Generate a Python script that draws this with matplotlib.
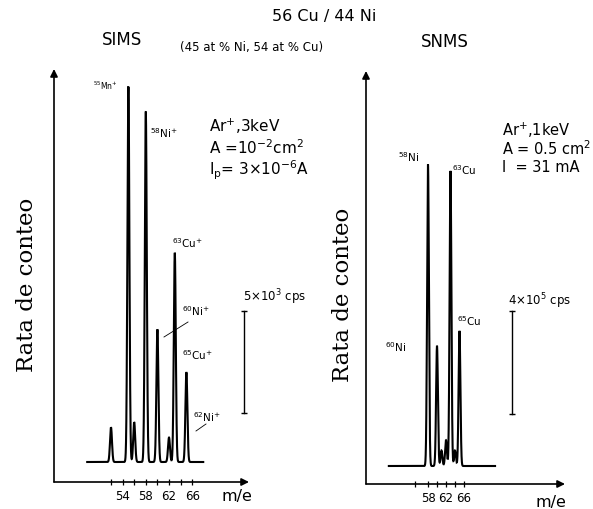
import matplotlib
matplotlib.use('Agg')
import matplotlib.pyplot as plt
import numpy as np

W, H = 593, 510

# ---- SIMS (left panel): mass numbers and peak heights (10^3 cps)
sims_mass = [52, 55, 56, 58, 60, 62, 63, 65]
sims_counts = [1.7, 18.4, 1.95, 17.15, 6.5, 1.2, 10.25, 4.4]
sims_ticks = [52, 54, 56, 58, 60, 62, 64, 66]
sims_ticklabels = ['', '54', '', '58', '', '62', '', '66']
sims_scalebar = 5.0  # 5x10^3 cps

# ---- SNMS (right panel): mass numbers and peak heights (10^5 cps)
snms_mass = [58, 60, 61, 62, 63, 64, 65]
snms_counts = [11.7, 4.66, 0.6, 1.0, 11.45, 0.6, 5.24]
snms_ticks = [55, 58, 60, 62, 64, 66]
snms_ticklabels = ['', '58', '', '62', '', '66']
snms_scalebar = 4.0  # 4x10^5 cps

plt.rcParams['font.family'] = ['DejaVu Sans']
fig = plt.figure(figsize=(W / 100, H / 100), dpi=100)
fig.patch.set_facecolor('white')


def P(x, y):
    return x / W, 1 - y / H


def make_axes(px_left, px_right, py_bottom, py_top):
    return fig.add_axes([px_left / W, 1 - py_bottom / H,
                         (px_right - px_left) / W, (py_bottom - py_top) / H])


def style_axes(ax, ticks, labels):
    for s in ax.spines.values():
        s.set_visible(False)
    ax.set_yticks([])
    ax.set_xticks(ticks)
    ax.set_xticklabels(labels, fontsize=8.5)
    ax.tick_params(axis='x', direction='inout', length=4, width=0.9, pad=3)
    ax.set_facecolor('none')
    ap = dict(arrowstyle='-|>', lw=1.2, color='k', mutation_scale=11,
              shrinkA=0, shrinkB=0)
    ax.annotate('', xy=(0, 1), xytext=(0, 0), xycoords='axes fraction', arrowprops=ap)
    ax.annotate('', xy=(1, 0), xytext=(0, 0), xycoords='axes fraction', arrowprops=ap)


def trace(ax, masses, counts, xmin, xmax, sigma):
    x = np.linspace(xmin, xmax, 4000)
    y = np.zeros_like(x)
    for m, c in zip(masses, counts):
        y += c * np.exp(-0.5 * ((x - m) / sigma) ** 2)
    ax.plot(x, y, color='k', lw=1.5, solid_joinstyle='miter')


# ---------------- Left panel (SIMS)
axL = make_axes(54, 249, 483, 70)
axL.set_xlim(52 + (54 - 111) / 5.8, 52 + (249 - 111) / 5.8)
axL.set_ylim(-20 * 0.049, (463 - 70) * 0.049)
style_axes(axL, sims_ticks, sims_ticklabels)
trace(axL, sims_mass, sims_counts, 47.9, 67.9, 0.17)
xb = 74.9
axL.plot([xb, xb], [2.4, 2.4 + sims_scalebar], color='k', lw=1.0,
         marker='_', ms=4, mew=1.0)

# ---------------- Right panel (SNMS)
axR = make_axes(366, 565, 485, 72)
axR.set_xlim(58 + (366 - 428) / 4.5, 58 + (565 - 428) / 4.5)
axR.set_ylim(-18 * 0.0388, (467 - 72) * 0.0388)
style_axes(axR, snms_ticks, snms_ticklabels)
trace(axR, snms_mass, snms_counts, 49.3, 72.9, 0.2)
xb = 76.7
axR.plot([xb, xb], [2.0, 2.0 + snms_scalebar], color='k', lw=1.0,
         marker='_', ms=4, mew=1.0)

# ---------------- Texts
fig.text(*P(324, 16), '56 Cu / 44 Ni', fontsize=11.5, ha='center', va='center')
fig.text(*P(122, 40), 'SIMS', fontsize=12, ha='center', va='center')
fig.text(*P(180, 47), '(45 at % Ni, 54 at % Cu)', fontsize=8.5, ha='left', va='center')
fig.text(*P(445, 42), 'SNMS', fontsize=12, ha='center', va='center')

fig.text(*P(209, 126), 'Ar$^{+}$,3keV', fontsize=11, ha='left', va='center')
fig.text(*P(209, 148), 'A =10$^{-2}$cm$^{2}$', fontsize=11, ha='left', va='center')
fig.text(*P(209, 170), 'I$_{\\mathrm{p}}$= 3$\\times$10$^{-6}$A', fontsize=11, ha='left', va='center')

fig.text(*P(502, 130), 'Ar$^{+}$,1keV', fontsize=10.5, ha='left', va='center')
fig.text(*P(502, 149), 'A = 0.5 cm$^{2}$', fontsize=10.5, ha='left', va='center')
fig.text(*P(502, 168), 'I  = 31 mA', fontsize=10.5, ha='left', va='center')

fig.text(*P(243, 297), '5$\\times$10$^{3}$ cps', fontsize=8.5, ha='left', va='center')
fig.text(*P(508, 301), '4$\\times$10$^{5}$ cps', fontsize=8.5, ha='left', va='center')

# peak labels, left
fig.text(*P(93, 86), '$^{55}$Mn$^{+}$', fontsize=5.5, ha='left', va='center')
fig.text(*P(150, 133), '$^{58}$Ni$^{+}$', fontsize=7.5, ha='left', va='center')
fig.text(*P(172, 243), '$^{63}$Cu$^{+}$', fontsize=7.5, ha='left', va='center')
fig.text(*P(182, 311), '$^{60}$Ni$^{+}$', fontsize=7.5, ha='left', va='center')
fig.text(*P(182, 355), '$^{65}$Cu$^{+}$', fontsize=7.5, ha='left', va='center')
fig.text(*P(193, 417), '$^{62}$Ni$^{+}$', fontsize=7.5, ha='left', va='center')
fig.add_artist(plt.Line2D([188 / W, 164 / W], [1 - 323 / H, 1 - 338 / H], color='k', lw=0.6))
fig.add_artist(plt.Line2D([206 / W, 196 / W], [1 - 425 / H, 1 - 432 / H], color='k', lw=0.6))

# peak labels, right
fig.text(*P(398, 157), '$^{58}$Ni', fontsize=7.5, ha='left', va='center')
fig.text(*P(452, 170), '$^{63}$Cu', fontsize=7.5, ha='left', va='center')
fig.text(*P(385, 347), '$^{60}$Ni', fontsize=7.5, ha='left', va='center')
fig.text(*P(457, 321), '$^{65}$Cu', fontsize=7.5, ha='left', va='center')

# axis labels
fig.text(*P(27, 285), 'Rata de conteo', fontsize=16.5, family='DejaVu Serif',
         rotation=90, ha='center', va='center')
fig.text(*P(343, 295), 'Rata de conteo', fontsize=16.5, family='DejaVu Serif',
         rotation=90, ha='center', va='center')
fig.text(*P(237, 497), 'm/e', fontsize=11.5, ha='center', va='center')
fig.text(*P(551, 503), 'm/e', fontsize=11.5, ha='center', va='center')

fig.savefig('out.png', dpi=100, facecolor='white')
